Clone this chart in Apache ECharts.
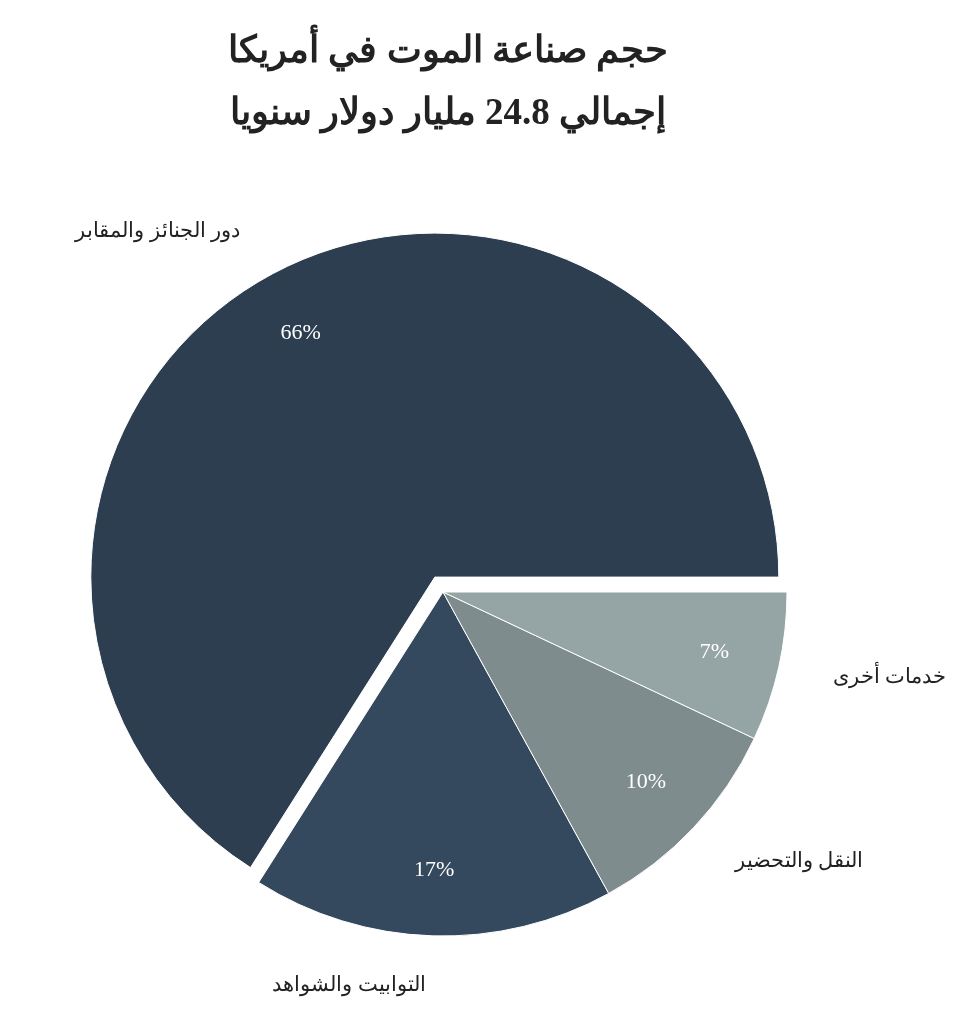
<!DOCTYPE html>
<html>
<head>
<meta charset="utf-8">
<script src="https://cdn.jsdelivr.net/npm/echarts@6/dist/echarts.min.js"></script>
<style>
html,body{margin:0;padding:0;background:#fff;}
#main{width:977px;height:1035px;}
</style>
</head>
<body>
<div id="main"></div>
<script>
const titleLines = ['حجم صناعة الموت في أمريكا', 'إجمالي 24.8 مليار دولار سنويا'];
const categories = ['دور الجنائز والمقابر', 'التوابيت والشواهد', 'النقل والتحضير', 'خدمات أخرى'];
const values = [66, 17, 10, 7];
const colors = ['#2c3e50', '#34495e', '#7f8c8d', '#95a5a6'];
const exploded = [true, false, false, false];

const FONT = '"Liberation Serif", "DejaVu Serif", "Noto Sans", serif';
const chart = echarts.init(document.getElementById('main'));
const center = [443, 592];
const R = 344;
const OFFSET = 17;

chart.setOption({
  backgroundColor: '#ffffff',
  animation: false,
  title: {
    text: titleLines.join('\n'),
    left: 443,
    textAlign: 'center',
    top: 16,
    textStyle: { fontFamily: FONT, fontSize: 37, fontWeight: 'bold', color: '#222', lineHeight: 62 }
  },
  series: [
    {
      type: 'pie',
      center: center,
      radius: [0, R],
      startAngle: 0,
      clockwise: false,
      selectedMode: 'single',
      selectedOffset: OFFSET,
      avoidLabelOverlap: false,
      silent: true,
      itemStyle: { borderColor: '#ffffff', borderWidth: 1 },
      emphasis: { disabled: true },
      label: {
        show: true, position: 'outside', fontFamily: FONT, fontSize: 21, color: '#222',
        formatter: '{b}'
      },
      labelLine: { show: false, length: 50, length2: 0 },
      data: categories.map((c, i) => ({
        name: c, value: values[i], selected: exploded[i],
        itemStyle: { color: colors[i] }
      }))
    },
    {
      type: 'pie',
      center: center,
      radius: [R * 0.8 - 20, R * 0.8 + 20],
      startAngle: 0,
      clockwise: false,
      selectedMode: 'single',
      selectedOffset: OFFSET,
      avoidLabelOverlap: false,
      silent: true,
      emphasis: { disabled: true },
      itemStyle: { color: 'rgba(0,0,0,0)', borderWidth: 0 },
      label: {
        show: true, position: 'inside', fontFamily: FONT, fontSize: 22, color: '#ffffff',
        formatter: p => p.value + '%'
      },
      labelLine: { show: false },
      data: categories.map((c, i) => ({
        name: c, value: values[i], selected: exploded[i]
      }))
    }
  ]
});
</script>
</body>
</html>
